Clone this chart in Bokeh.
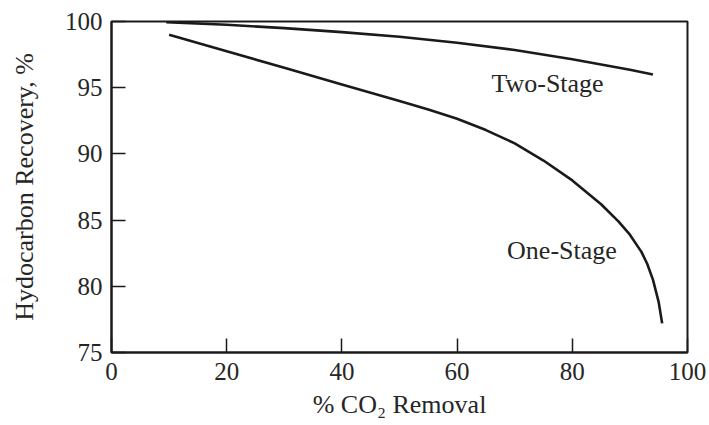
from bokeh.plotting import figure
from bokeh.models import Range1d, FixedTicker, ColumnDataSource
from bokeh.core.properties import value
from bokeh.embed import file_html
from bokeh.resources import INLINE

# Hydrocarbon recovery vs. CO2 removal for one- and two-stage membrane units
one_stage_x = [10, 20, 30, 40, 50, 55, 60, 65, 70, 75, 80, 85, 88, 90, 92, 93, 94, 95, 95.6]
one_stage_y = [99.0, 97.75, 96.5, 95.25, 94.0, 93.35, 92.65, 91.8, 90.8, 89.5, 88.0, 86.2,
               84.9, 83.9, 82.6, 81.7, 80.5, 78.8, 77.2]

two_stage_x = [9.5, 20, 30, 40, 50, 60, 70, 80, 90, 94]
two_stage_y = [99.95, 99.75, 99.5, 99.2, 98.85, 98.4, 97.85, 97.15, 96.35, 96.0]

curve_names = ["Two-Stage", "One-Stage"]
label_x = [75.7, 78.2]
label_y = [95.35, 82.7]

x_ticks = [0, 20, 40, 60, 80, 100]
y_ticks = [75, 80, 85, 90, 95, 100]

FONT = "Liberation Serif"
INK = "#1a1a1a"
TEXT = "#262626"

p = figure(width=709, height=425, output_backend="svg", toolbar_location=None,
           x_range=Range1d(0, 100), y_range=Range1d(75, 100),
           min_border_left=111, min_border_right=22, min_border_top=21,
           min_border_bottom=73)

p.background_fill_color = "white"
p.border_fill_color = "white"
p.outline_line_color = INK
p.outline_line_width = 2
p.xgrid.visible = False
p.ygrid.visible = False

p.line(one_stage_x, one_stage_y, line_color=INK, line_width=2.6, line_join="round")
p.line(two_stage_x, two_stage_y, line_color=INK, line_width=2.6, line_join="round")

src = ColumnDataSource(dict(x=label_x, y=label_y, t=curve_names))
p.text(x="x", y="y", text="t", source=src, text_align="center",
       text_baseline="middle", text_font=value(FONT), text_font_size="26px",
       text_color=TEXT)

for ax in (p.xaxis[0], p.yaxis[0]):
    ax.axis_line_color = INK
    ax.axis_line_width = 2
    ax.major_tick_line_color = INK
    ax.major_tick_line_width = 1.5
    ax.major_tick_in = 14
    ax.major_tick_out = 0
    ax.minor_tick_line_color = None
    ax.major_label_text_font = FONT
    ax.major_label_text_font_size = "25px"
    ax.major_label_text_color = TEXT
    ax.axis_label_text_font = FONT
    ax.axis_label_text_font_size = "26px"
    ax.axis_label_text_font_style = "normal"
    ax.axis_label_text_color = TEXT

p.xaxis.ticker = FixedTicker(ticks=x_ticks)
p.yaxis.ticker = FixedTicker(ticks=y_ticks)
p.xaxis.axis_label = "% CO₂ Removal"
p.yaxis.axis_label = "Hydocarbon Recovery, %"
p.xaxis.major_label_standoff = 10
p.yaxis.major_label_standoff = 9
p.xaxis.axis_label_standoff = 7
p.yaxis.axis_label_standoff = 23

open("out.html", "w").write(file_html(p, INLINE))
